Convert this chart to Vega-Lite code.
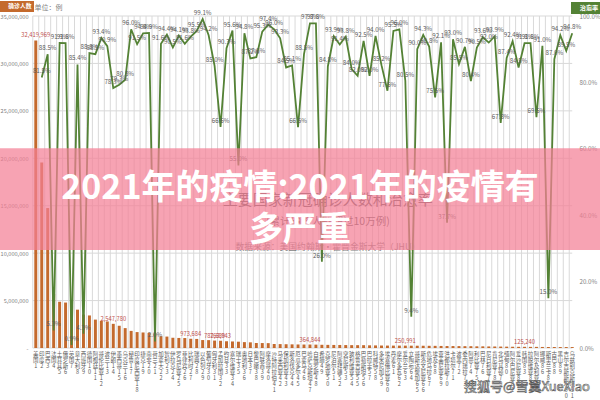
{
  "$schema": "https://vega.github.io/schema/vega-lite/v6.json",
  "width": 600,
  "height": 332,
  "autosize": "none",
  "padding": {"left": 0, "top": 16, "right": 0, "bottom": 52},
  "background": "white",
  "config": {
    "font": "Noto Sans CJK SC",
    "view": {"stroke": null},
    "axisX": {
      "labelExpr": "split(datum.label, '')",
      "ticks": false,
      "domain": false,
      "grid": false,
      "labelAngle": 0,
      "labelFontSize": 5.5,
      "labelLineHeight": 6,
      "labelBaseline": "top",
      "labelPadding": 3,
      "labelColor": "#595959",
      "labelOverlap": false,
      "labelBound": false
    }
  },
  "datasets": {
    "main": [
      {"name": "美国1", "cases": 32419969, "rate": null},
      {"name": "印度2", "cases": 19557457, "rate": 0.815},
      {"name": "巴西3", "cases": 14754910, "rate": 0.885},
      {"name": "法国4", "cases": 5713917, "rate": 0.053},
      {"name": "土耳其5", "cases": 4875388, "rate": 0.919},
      {"name": "俄罗斯6", "cases": 4792354, "rate": 0.918},
      {"name": "英国7", "cases": 4425795, "rate": 0.009},
      {"name": "意大利8", "cases": 4041246, "rate": 0.854},
      {"name": "西班牙9", "cases": 3524077, "rate": 0.043},
      {"name": "德国10", "cases": 3431000, "rate": 0.888},
      {"name": "阿根廷11", "cases": 2993865, "rate": 0.885},
      {"name": "哥伦比亚12", "cases": 2859724, "rate": 0.934},
      {"name": "波兰13", "cases": 2800000, "rate": 0.909},
      {"name": "伊朗14", "cases": 2547780, "rate": 0.783},
      {"name": "墨西哥15", "cases": 2344755, "rate": 0.793},
      {"name": "乌克兰16", "cases": 2097000, "rate": 0.808},
      {"name": "秘鲁17", "cases": 1805000, "rate": 0.96},
      {"name": "印度尼西亚18", "cases": 1677274, "rate": 0.915},
      {"name": "捷克19", "cases": 1637000, "rate": 0.948},
      {"name": "南非20", "cases": 1584064, "rate": 0.949},
      {"name": "荷兰21", "cases": 1530000, "rate": 0.02},
      {"name": "加拿大22", "cases": 1238000, "rate": 0.916},
      {"name": "智利23", "cases": 1205000, "rate": 0.944},
      {"name": "伊拉克24", "cases": 1080000, "rate": 0.905},
      {"name": "罗马尼亚25", "cases": 1060000, "rate": 0.941},
      {"name": "菲律宾26", "cases": 1050000, "rate": 0.916},
      {"name": "比利时27", "cases": 973684, "rate": 0.938},
      {"name": "瑞典28", "cases": 955000, "rate": 0.955},
      {"name": "以色列29", "cases": 838000, "rate": 0.991},
      {"name": "葡萄牙30", "cases": 830000, "rate": 0.942},
      {"name": "匈牙利31", "cases": 782680, "rate": 0.85},
      {"name": "孟加拉国32", "cases": 763943, "rate": 0.666},
      {"name": "约旦33", "cases": 712000, "rate": 0.903},
      {"name": "塞尔维亚34", "cases": 689000, "rate": 0.956},
      {"name": "瑞士35", "cases": 664000, "rate": 0.55},
      {"name": "奥地利36", "cases": 620000, "rate": 0.948},
      {"name": "日本37", "cases": 597000, "rate": 0.872},
      {"name": "黎巴嫩38", "cases": 525000, "rate": 0.876},
      {"name": "阿联酋39", "cases": 521000, "rate": 0.953},
      {"name": "摩洛哥40", "cases": 511000, "rate": 0.974},
      {"name": "沙特阿拉伯41", "cases": 421000, "rate": 0.96},
      {"name": "马来西亚42", "cases": 411000, "rate": 0.933},
      {"name": "保加利亚43", "cases": 398000, "rate": 0.845},
      {"name": "斯洛伐克44", "cases": 384000, "rate": 0.851},
      {"name": "厄瓜多尔45", "cases": 373000, "rate": 0.665},
      {"name": "巴拿马46", "cases": 366000, "rate": 0.885},
      {"name": "哈萨克斯坦47", "cases": 364844, "rate": 0.978},
      {"name": "白俄罗斯48", "cases": 355000, "rate": 0.978},
      {"name": "希腊49", "cases": 339000, "rate": 0.26},
      {"name": "克罗地亚50", "cases": 331000, "rate": 0.848},
      {"name": "尼泊尔51", "cases": 323000, "rate": 0.939},
      {"name": "阿塞拜疆52", "cases": 320000, "rate": 0.914},
      {"name": "突尼斯53", "cases": 309000, "rate": 0.938},
      {"name": "玻利维亚54", "cases": 301000, "rate": 0.84},
      {"name": "格鲁吉亚55", "cases": 299000, "rate": 0.82},
      {"name": "巴勒斯坦56", "cases": 298000, "rate": 0.925},
      {"name": "巴拉圭57", "cases": 283000, "rate": 0.82},
      {"name": "科威特58", "cases": 273000, "rate": 0.94},
      {"name": "多米尼加59", "cases": 262000, "rate": 0.852},
      {"name": "埃塞俄比亚60", "cases": 256000, "rate": 0.775},
      {"name": "丹麦61", "cases": 253000, "rate": 0.955},
      {"name": "摩尔多瓦62", "cases": 252000, "rate": 0.96},
      {"name": "爱尔兰63", "cases": 250991, "rate": 0.805},
      {"name": "立陶宛64", "cases": 245000, "rate": 0.094},
      {"name": "哥斯达黎加65", "cases": 241000, "rate": 0.90},
      {"name": "斯洛文尼亚66", "cases": 238000, "rate": 0.943},
      {"name": "危地马拉67", "cases": 232000, "rate": 0.908},
      {"name": "埃及68", "cases": 228000, "rate": 0.755},
      {"name": "亚美尼亚69", "cases": 217000, "rate": 0.921},
      {"name": "洪都拉斯70", "cases": 207000, "rate": 0.377},
      {"name": "卡塔尔71", "cases": 205000, "rate": 0.93},
      {"name": "波黑72", "cases": 199000, "rate": 0.855},
      {"name": "委内瑞拉73", "cases": 193000, "rate": 0.907},
      {"name": "阿曼74", "cases": 191000, "rate": 0.804},
      {"name": "利比亚75", "cases": 177000, "rate": 0.905},
      {"name": "巴林76", "cases": 175000, "rate": 0.936},
      {"name": "尼日利亚77", "cases": 165000, "rate": 0.92},
      {"name": "肯尼亚78", "cases": 160000, "rate": 0.939},
      {"name": "北马其顿79", "cases": 152000, "rate": 0.678},
      {"name": "缅甸80", "cases": 143000, "rate": 0.874},
      {"name": "阿尔巴尼亚81", "cases": 131000, "rate": 0.924},
      {"name": "爱沙尼亚82", "cases": 126500, "rate": 0.845},
      {"name": "韩国83", "cases": 125240, "rate": 0.918},
      {"name": "拉脱维亚84", "cases": 120000, "rate": 0.918},
      {"name": "阿尔及利亚85", "cases": 119000, "rate": 0.695},
      {"name": "挪威86", "cases": 110000, "rate": 0.91},
      {"name": "斯里兰卡87", "cases": 106000, "rate": 0.15},
      {"name": "古巴88", "cases": 105000, "rate": 0.87},
      {"name": "黑山89", "cases": 101000, "rate": 0.942},
      {"name": "吉尔吉斯斯坦90", "cases": 100600, "rate": 0.895},
      {"name": "乌兹别克斯坦91", "cases": 100200, "rate": 0.948}
    ],
    "ticks": [
      {"v": 0}, {"v": 5000000}, {"v": 10000000}, {"v": 15000000},
      {"v": 20000000}, {"v": 25000000}, {"v": 30000000}, {"v": 35000000}
    ]
  },
  "layer": [
    {
      "data": {"name": "main"},
      "layer": [
        {
          "mark": {"type": "rule", "color": "#D9D9D9", "strokeWidth": 1},
          "encoding": {
            "x": {"field": "name", "type": "nominal", "sort": null, "title": null, "bandPosition": 0,
                  "scale": {"paddingInner": 0, "paddingOuter": 0, "range": [32.8, 575.2]}}
          }
        },
        {
          "data": {"name": "ticks"},
          "mark": {"type": "rule", "color": "#D9D9D9", "strokeWidth": 1},
          "encoding": {
            "y": {"field": "v", "type": "quantitative", "scale": {"domain": [0, 35000000], "nice": false}},
            "x": {"datum": "美国1", "bandPosition": 0},
            "x2": {"datum": "乌兹别克斯坦91"}
          }
        },
        {
          "mark": {"type": "bar", "width": {"band": 0.5}},
          "encoding": {
            "x": {"field": "name", "type": "nominal", "sort": null, "title": null,
                  "scale": {"paddingInner": 0, "paddingOuter": 0, "range": [32.8, 575.2]}},
            "y": {"field": "cases", "type": "quantitative", "scale": {"domain": [0, 35000000], "nice": false},
                  "axis": {"orient": "left", "offset": -33,
                           "values": [0, 5000000, 10000000, 15000000, 20000000, 25000000, 30000000, 35000000],
                           "labelExpr": "datum.value === 0 ? '-' : format(datum.value, ',')",
                           "labelFontSize": 5.6, "labelColor": "#7f7f7f", "ticks": false, "domain": false, "grid": false,
                           "labelPadding": 5, "title": "单位：例", "titleAngle": 0, "titleX": 1, "titleY": -9,
                           "titleAlign": "left", "titleBaseline": "middle", "titleFontSize": 7,
                           "titleFontWeight": "normal", "titleColor": "#7f7f7f"}},
            "color": {"datum": "确诊人数", "type": "nominal", "scale": {"range": ["#C46A2D"]},
                      "legend": {"orient": "none", "legendX": 0, "legendY": -15, "title": null,
                                 "fillColor": "#C46A2D", "padding": 2.5, "symbolSize": 0, "symbolOpacity": 0,
                                 "symbolStrokeWidth": 0, "labelOffset": 0, "labelColor": "#ffffff",
                                 "labelFontSize": 5.8, "labelFontWeight": "bold"}}
          }
        },
        {
          "transform": [{"filter": "indexof(['美国1','伊朗14','比利时27','匈牙利31','孟加拉国32','哈萨克斯坦47','爱尔兰63','韩国83'], datum.name) >= 0"}],
          "mark": {"type": "text", "dy": -5, "fontSize": 5.8, "color": "#C0504D"},
          "encoding": {
            "x": {"field": "name", "type": "nominal", "sort": null, "title": null,
                  "scale": {"paddingInner": 0, "paddingOuter": 0, "range": [32.8, 575.2]}},
            "y": {"field": "cases", "type": "quantitative"},
            "text": {"field": "cases", "type": "quantitative", "format": ","}
          }
        },
        {
          "data": {"values": [{"t": "主要国家新冠确诊人数和治愈率"}]},
          "mark": {"type": "text", "fontSize": 15, "color": "#595959", "baseline": "middle"},
          "encoding": {"x": {"datum": "克罗地亚50"}, "y": {"datum": 15550000, "type": "quantitative"}, "text": {"field": "t"}}
        },
        {
          "data": {"values": [{"t": "(累计确诊人数超过10万例)"}]},
          "mark": {"type": "text", "fontSize": 10.5, "color": "#595959", "baseline": "middle"},
          "encoding": {"x": {"datum": "克罗地亚50"}, "y": {"datum": 13250000, "type": "quantitative"}, "text": {"field": "t"}}
        },
        {
          "data": {"values": [{"t": "数据来源：美国约翰斯·霍普金斯大学（JHU）"}]},
          "mark": {"type": "text", "fontSize": 8.8, "color": "#7f7f7f", "baseline": "middle"},
          "encoding": {"x": {"datum": "克罗地亚50"}, "y": {"datum": 10700000, "type": "quantitative"}, "text": {"field": "t"}}
        }
      ]
    },
    {
      "data": {"name": "main"},
      "layer": [
        {
          "mark": {"type": "line", "strokeWidth": 1.8},
          "encoding": {
            "x": {"field": "name", "type": "nominal", "sort": null, "title": null,
                  "scale": {"paddingInner": 0, "paddingOuter": 0, "range": [32.8, 575.2]}},
            "y": {"field": "rate", "type": "quantitative", "scale": {"domain": [0, 1], "nice": false},
                  "axis": {"orient": "right", "offset": -25,
                           "values": [0, 0.1, 0.2, 0.3, 0.4, 0.5, 0.6, 0.7, 0.8, 0.9, 1],
                           "format": ".1%", "labelFontSize": 6.2, "labelColor": "#7f7f7f",
                           "ticks": false, "domain": false, "grid": false, "labelPadding": 4, "title": null}},
            "stroke": {"datum": "治愈率", "type": "nominal", "scale": {"range": ["#548235"]},
                       "legend": {"orient": "none", "legendX": 571, "legendY": -14, "title": null,
                                  "fillColor": "#548235", "padding": 2.5, "symbolSize": 0, "symbolOpacity": 0,
                                  "symbolStrokeWidth": 0, "labelOffset": 0, "labelColor": "#ffffff",
                                  "labelFontSize": 6.2, "labelFontWeight": "bold"}}
          }
        },
        {
          "transform": [{"filter": "isValid(datum.rate)"}],
          "mark": {"type": "text", "dy": -6, "fontSize": 6.2, "color": "#5a5a5a"},
          "encoding": {
            "x": {"field": "name", "type": "nominal", "sort": null, "title": null,
                  "scale": {"paddingInner": 0, "paddingOuter": 0, "range": [32.8, 575.2]}},
            "y": {"field": "rate", "type": "quantitative"},
            "text": {"field": "rate", "type": "quantitative", "format": ".1%"}
          }
        }
      ]
    },
    {
      "data": {"values": [{"t": "2021年的疫情:2021年的疫情有\n多严重", "w": "搜狐号@雪翼XueXiao"}]},
      "layer": [
        {
          "mark": {"type": "rect", "color": "#f47f95", "opacity": 0.72},
          "encoding": {
            "y": {"datum": 21070000, "type": "quantitative", "scale": {"domain": [0, 35000000], "nice": false}, "axis": null},
            "y2": {"datum": 10320000}
          }
        },
        {
          "mark": {"type": "text", "lineBreak": "\n", "lineHeight": 42, "fontSize": 34, "fontWeight": "bold",
                   "color": "#ffffff", "baseline": "top", "align": "center"},
          "encoding": {"y": {"datum": 18600000, "type": "quantitative"}, "text": {"field": "t"}}
        },
        {
          "mark": {"type": "text", "fontSize": 13, "fill": "#ffffff", "stroke": "#555555", "strokeWidth": 0.6,
                   "align": "right", "baseline": "middle", "dx": -10, "dy": 39},
          "encoding": {"x": {"value": "width"}, "y": {"value": "height"}, "text": {"field": "w"}}
        }
      ]
    }
  ],
  "resolve": {"scale": {"y": "independent"}}
}
